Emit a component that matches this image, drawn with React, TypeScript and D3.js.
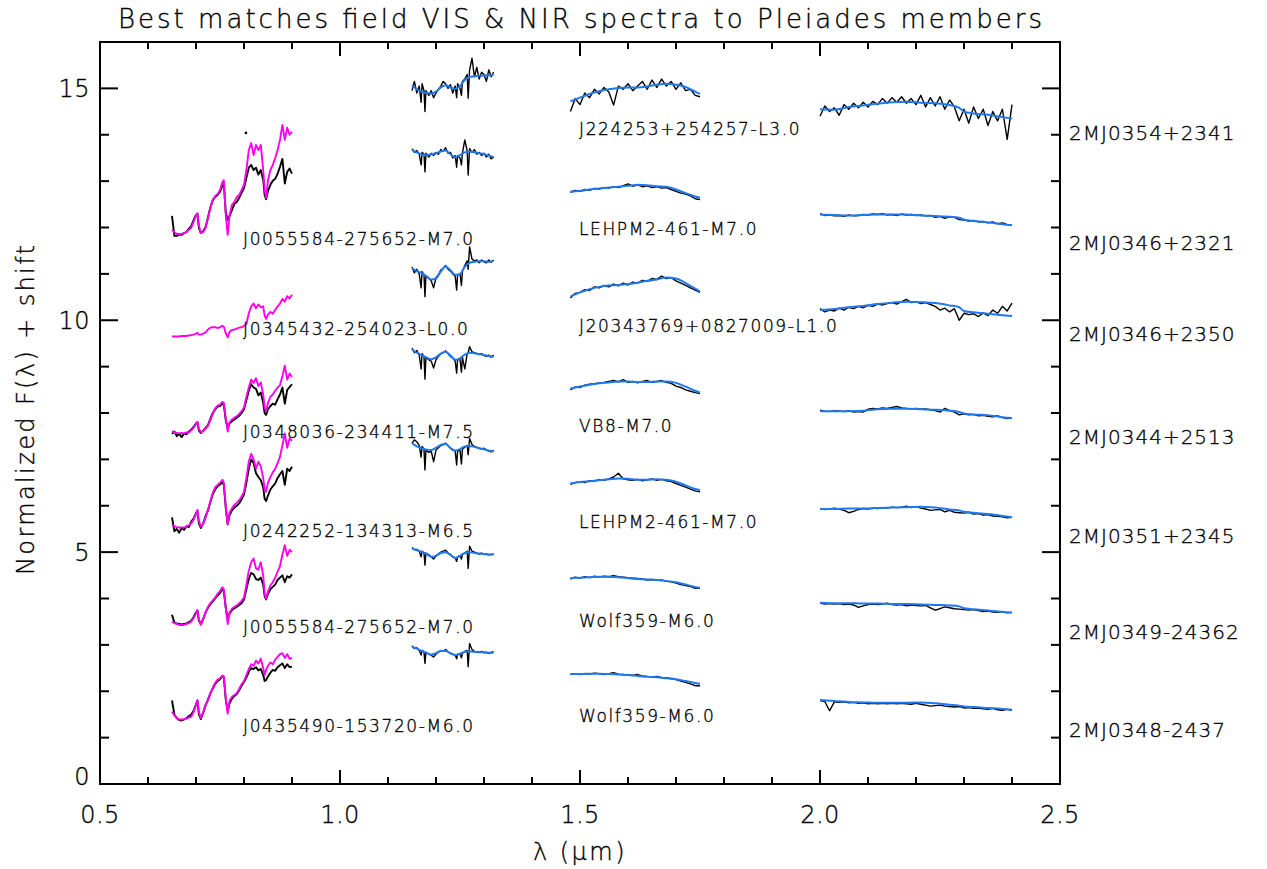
import React from "react";
import * as d3 from "d3";

// ---------- wavelength grids (micron) ----------
const VIS_WL = [0.650,0.655,0.660,0.665,0.670,0.675,0.680,0.685,0.690,0.695,0.700,0.703,0.706,0.710,0.715,0.720,0.725,0.730,0.735,0.740,0.745,0.750,0.755,0.758,0.762,0.766,0.770,0.775,0.780,0.785,0.790,0.795,0.800,0.805,0.810,0.815,0.820,0.825,0.830,0.835,0.840,0.843,0.846,0.850,0.855,0.860,0.865,0.870,0.875,0.880,0.885,0.890,0.895,0.900];
const J_WL = [1.150,1.155,1.160,1.165,1.169,1.171,1.175,1.177,1.179,1.185,1.190,1.195,1.200,1.205,1.210,1.215,1.220,1.225,1.230,1.235,1.240,1.243,1.245,1.250,1.253,1.255,1.260,1.265,1.267,1.270,1.275,1.280,1.285,1.290,1.295,1.300,1.305,1.310,1.315,1.320];
const J_MODEL_WL = [1.15,1.16,1.17,1.18,1.19,1.20,1.21,1.22,1.23,1.24,1.25,1.26,1.27,1.28,1.29,1.30,1.31,1.32];
const H_WL = [1.48,1.49,1.50,1.51,1.52,1.53,1.54,1.55,1.56,1.57,1.58,1.59,1.60,1.61,1.62,1.63,1.64,1.65,1.66,1.67,1.68,1.69,1.70,1.71,1.72,1.73,1.74,1.75];
const H_MODEL_WL = [1.48,1.50,1.52,1.54,1.56,1.58,1.60,1.62,1.64,1.66,1.68,1.70,1.72,1.74,1.75];
const K_WL = [2.00,2.01,2.02,2.03,2.04,2.05,2.06,2.07,2.08,2.09,2.10,2.11,2.12,2.13,2.14,2.15,2.16,2.17,2.18,2.19,2.20,2.21,2.22,2.23,2.24,2.25,2.26,2.27,2.28,2.29,2.30,2.31,2.32,2.33,2.34,2.35,2.36,2.37,2.38,2.39,2.40];
const K_MODEL_WL = [2.00,2.03,2.06,2.09,2.12,2.15,2.18,2.21,2.24,2.27,2.29,2.30,2.32,2.35,2.38,2.40];

// ---------- VIS: observed (black) and template (magenta) ----------
const vis1Obs = [12.25,11.82,11.82,11.84,11.84,11.88,11.90,11.97,12.03,12.16,12.27,12.29,11.99,11.88,11.92,12.01,12.22,12.44,12.59,12.66,12.70,12.77,12.90,12.94,12.33,12.16,12.25,12.38,12.51,12.55,12.64,12.75,12.85,13.07,13.29,13.35,13.24,13.29,13.14,13.24,13.03,12.70,12.61,12.79,12.92,13.01,13.05,13.16,13.31,13.48,12.95,13.20,13.27,13.16];
const vis1Tpl = [11.95,11.90,11.86,11.86,11.86,11.88,11.90,11.95,11.99,12.12,12.25,12.31,12.05,11.88,11.90,11.99,12.20,12.42,12.59,12.68,12.72,12.81,12.98,13.02,12.27,11.84,12.27,12.49,12.55,12.66,12.70,12.81,12.92,13.24,13.67,13.82,13.56,13.78,13.67,13.78,13.24,12.81,12.64,13.02,13.24,13.35,13.50,13.67,13.89,14.21,13.89,14.15,14.00,14.06];
const vis1Outlier = [[0.804, 14.04]];
const vis2Tpl = [9.65,9.65,9.65,9.65,9.66,9.66,9.66,9.67,9.68,9.69,9.71,9.73,9.69,9.69,9.71,9.74,9.80,9.84,9.85,9.85,9.83,9.85,9.88,9.86,9.72,9.63,9.75,9.79,9.80,9.82,9.84,9.85,9.88,9.92,10.15,10.30,10.36,10.26,10.34,10.28,10.30,10.10,10.03,10.12,10.18,10.14,10.22,10.30,10.36,10.46,10.40,10.52,10.47,10.55];
const vis3Obs = [7.55,7.60,7.50,7.55,7.48,7.56,7.54,7.60,7.64,7.70,7.78,7.80,7.62,7.57,7.62,7.68,7.74,7.88,8.00,8.08,8.14,8.15,8.20,8.18,7.84,7.68,7.78,7.82,7.86,7.90,7.94,8.00,8.08,8.28,8.48,8.62,8.55,8.52,8.38,8.44,8.22,8.00,7.96,8.08,8.15,8.20,8.18,8.30,8.40,8.55,8.20,8.50,8.56,8.62];
const vis3Tpl = [7.61,7.58,7.57,7.56,7.57,7.56,7.58,7.58,7.62,7.68,7.76,7.81,7.66,7.59,7.61,7.66,7.72,7.85,7.98,8.10,8.16,8.18,8.24,8.22,7.90,7.60,7.80,7.86,7.90,7.93,7.98,8.04,8.12,8.35,8.55,8.72,8.65,8.75,8.58,8.66,8.40,8.12,8.04,8.22,8.35,8.40,8.48,8.55,8.60,8.80,9.02,8.72,8.85,8.78];
const vis4Obs = [5.75,5.45,5.50,5.42,5.52,5.48,5.56,5.54,5.66,5.72,5.84,5.88,5.62,5.52,5.62,5.78,5.90,6.08,6.25,6.35,6.42,6.46,6.50,6.45,5.95,5.60,5.80,5.90,5.96,6.00,6.05,6.14,6.24,6.50,6.80,7.00,6.92,6.70,6.62,6.55,6.40,6.15,6.10,6.22,6.35,6.42,6.48,6.60,6.68,6.75,6.45,6.80,6.75,6.84];
const vis4Tpl = [5.58,5.56,5.54,5.53,5.53,5.53,5.55,5.58,5.62,5.70,5.82,5.91,5.68,5.55,5.60,5.75,5.91,6.10,6.28,6.40,6.45,6.50,6.56,6.50,6.00,5.60,5.85,5.95,6.02,6.06,6.12,6.20,6.30,6.60,6.95,7.12,7.00,6.80,6.95,6.85,6.60,6.35,6.30,6.50,6.62,6.72,6.80,6.92,7.06,7.30,7.56,7.25,7.45,7.40];
const vis5Obs = [3.65,3.48,3.46,3.45,3.44,3.45,3.46,3.49,3.52,3.60,3.70,3.74,3.52,3.45,3.56,3.70,3.80,3.88,3.94,4.00,4.06,4.12,4.20,4.16,3.80,3.55,3.68,3.75,3.79,3.82,3.86,3.90,3.98,4.20,4.42,4.55,4.52,4.42,4.40,4.45,4.30,4.05,3.98,4.10,4.20,4.25,4.30,4.40,4.45,4.50,4.35,4.48,4.45,4.52];
const vis5Tpl = [3.50,3.47,3.45,3.43,3.43,3.43,3.45,3.47,3.50,3.58,3.68,3.75,3.55,3.43,3.55,3.70,3.82,3.90,3.96,4.02,4.10,4.16,4.24,4.20,3.80,3.45,3.70,3.78,3.82,3.85,3.90,3.95,4.02,4.30,4.60,4.78,4.86,4.65,4.62,4.78,4.50,4.10,4.00,4.15,4.28,4.35,4.45,4.58,4.70,4.95,5.15,4.92,5.05,5.00];
const vis6Obs = [1.80,1.50,1.42,1.38,1.37,1.39,1.42,1.46,1.50,1.58,1.72,1.80,1.50,1.40,1.54,1.70,1.82,1.96,2.06,2.16,2.22,2.26,2.32,2.30,1.82,1.58,1.74,1.84,1.90,1.94,2.02,2.12,2.20,2.30,2.42,2.50,2.48,2.52,2.45,2.48,2.35,2.22,2.24,2.32,2.40,2.46,2.44,2.52,2.56,2.60,2.50,2.58,2.52,2.53];
const vis6Tpl = [1.56,1.48,1.42,1.39,1.39,1.40,1.41,1.43,1.45,1.55,1.70,1.81,1.55,1.42,1.55,1.70,1.81,1.95,2.08,2.18,2.25,2.28,2.34,2.32,1.85,1.52,1.80,1.88,1.92,1.96,2.05,2.15,2.22,2.35,2.48,2.58,2.55,2.66,2.60,2.70,2.50,2.35,2.46,2.55,2.62,2.58,2.68,2.74,2.80,2.82,2.72,2.80,2.70,2.72];

// ---------- J band: observed (black) and model (blue) ----------
const j1Obs = [14.95,15.15,14.90,15.05,14.70,15.10,14.95,14.50,14.95,14.85,14.95,14.80,14.90,14.98,15.05,15.15,15.10,15.00,15.08,14.90,15.05,14.80,15.10,15.00,14.85,15.15,15.20,15.30,14.79,15.40,15.65,15.25,15.45,15.20,15.35,15.30,15.15,15.40,15.25,15.35];
const j1Mod = [15.07,14.98,14.93,14.90,14.89,14.93,15.02,15.07,15.02,14.99,15.05,15.18,15.25,15.26,15.27,15.28,15.28,15.30];
const j2Obs = [13.70,13.62,13.66,13.58,13.35,13.62,13.58,13.20,13.60,13.52,13.60,13.55,13.62,13.58,13.68,13.64,13.72,13.60,13.62,13.50,13.55,13.30,13.55,13.50,13.35,13.60,13.89,13.65,13.13,13.70,13.62,13.68,13.58,13.62,13.55,13.60,13.52,13.58,13.48,13.52];
const j2Mod = [13.67,13.62,13.58,13.56,13.58,13.60,13.64,13.66,13.58,13.52,13.56,13.62,13.64,13.62,13.60,13.58,13.55,13.52];
const j3Obs = [11.15,11.02,11.10,11.00,10.70,11.05,10.98,10.51,10.95,10.90,10.85,10.70,10.92,10.98,11.08,11.12,11.18,11.10,11.06,11.00,10.95,10.65,10.98,11.00,10.75,11.05,11.18,11.28,11.10,11.58,11.32,11.28,11.30,11.24,11.30,11.26,11.24,11.30,11.25,11.30];
const j3Mod = [11.12,11.06,11.02,10.95,10.88,10.90,11.05,11.16,11.08,10.98,11.00,11.15,11.24,11.26,11.27,11.27,11.26,11.28];
const j4Obs = [9.40,9.30,9.35,9.25,8.95,9.28,9.22,8.73,9.20,9.15,9.12,8.97,9.15,9.22,9.28,9.30,9.34,9.28,9.22,9.18,9.12,8.86,9.15,9.16,8.88,9.20,8.95,9.28,9.30,9.43,9.32,9.30,9.28,9.26,9.28,9.24,9.22,9.25,9.20,9.25];
const j4Mod = [9.37,9.30,9.25,9.20,9.16,9.20,9.28,9.32,9.24,9.15,9.18,9.26,9.30,9.29,9.27,9.25,9.23,9.21];
const j5Obs = [7.35,7.42,7.38,7.30,7.05,7.28,7.22,6.77,7.20,7.15,7.18,6.95,7.20,7.25,7.30,7.32,7.35,7.30,7.24,7.20,7.18,6.88,7.18,7.20,6.90,7.22,7.26,7.30,7.10,7.45,7.32,7.28,7.26,7.24,7.22,7.24,7.20,7.18,7.16,7.20];
const j5Mod = [7.35,7.28,7.24,7.21,7.20,7.25,7.31,7.33,7.25,7.19,7.22,7.28,7.29,7.27,7.24,7.22,7.19,7.17];
const j6Obs = [5.10,5.05,5.06,5.02,4.90,5.02,4.98,4.72,4.98,4.94,4.90,4.85,4.92,4.96,5.00,5.02,5.04,4.98,4.95,4.90,4.88,4.80,4.90,4.92,4.85,4.95,4.98,5.02,4.65,5.13,5.02,5.00,4.98,4.96,4.98,4.95,4.96,4.94,4.95,4.96];
const j6Mod = [5.08,5.04,5.01,4.96,4.90,4.92,4.98,5.00,4.94,4.87,4.92,4.98,5.00,4.98,4.97,4.96,4.95,4.95];
const j7Obs = [2.98,2.92,2.94,2.88,2.78,2.88,2.85,2.60,2.84,2.80,2.78,2.74,2.80,2.84,2.88,2.86,2.90,2.85,2.82,2.80,2.78,2.70,2.80,2.80,2.72,2.82,2.86,2.88,2.53,3.03,2.90,2.86,2.85,2.84,2.86,2.83,2.84,2.82,2.84,2.85];
const j7Mod = [2.96,2.92,2.87,2.83,2.79,2.82,2.87,2.87,2.82,2.78,2.81,2.85,2.86,2.85,2.84,2.84,2.83,2.83];

// ---------- H band ----------
const h1Obs = [14.50,14.78,14.65,14.90,14.80,14.98,14.88,15.02,14.92,14.64,15.05,14.98,15.10,14.95,15.05,15.15,14.98,15.18,15.02,15.20,15.05,15.15,14.98,15.12,14.95,14.98,14.85,14.82];
const h1Mod = [14.72,14.80,14.88,14.94,14.98,15.01,15.02,15.02,15.04,15.08,15.10,15.08,15.03,14.93,14.88];
const h2Obs = [12.76,12.80,12.78,12.82,12.80,12.84,12.83,12.86,12.85,12.88,12.86,12.90,12.94,12.89,12.92,12.88,12.90,12.86,12.88,12.85,12.86,12.82,12.78,12.74,12.72,12.68,12.62,12.60];
const h2Mod = [12.77,12.79,12.82,12.84,12.86,12.88,12.90,12.92,12.91,12.89,12.88,12.82,12.74,12.67,12.64];
const h3Obs = [10.48,10.58,10.60,10.66,10.64,10.72,10.70,10.75,10.72,10.78,10.74,10.80,10.76,10.82,10.80,10.86,10.84,10.90,10.88,10.95,10.90,10.92,10.85,10.80,10.75,10.70,10.65,10.60];
const h3Mod = [10.51,10.60,10.67,10.72,10.75,10.76,10.78,10.81,10.85,10.88,10.92,10.90,10.80,10.68,10.62];
const h4Obs = [8.50,8.56,8.55,8.60,8.62,8.63,8.65,8.66,8.68,8.70,8.67,8.72,8.66,8.68,8.65,8.68,8.70,8.66,8.68,8.70,8.66,8.64,8.58,8.55,8.50,8.47,8.44,8.42];
const h4Mod = [8.53,8.57,8.61,8.64,8.66,8.68,8.68,8.67,8.67,8.68,8.68,8.65,8.57,8.48,8.44];
const h5Obs = [6.46,6.50,6.52,6.50,6.54,6.53,6.56,6.55,6.58,6.62,6.70,6.58,6.56,6.55,6.57,6.54,6.56,6.58,6.55,6.57,6.54,6.52,6.48,6.44,6.40,6.36,6.32,6.30];
const h5Mod = [6.48,6.51,6.53,6.55,6.57,6.59,6.58,6.56,6.56,6.57,6.56,6.52,6.44,6.36,6.34];
const h6Obs = [4.42,4.46,4.44,4.47,4.45,4.48,4.46,4.48,4.47,4.49,4.47,4.46,4.45,4.44,4.43,4.42,4.40,4.41,4.39,4.40,4.37,4.36,4.33,4.30,4.28,4.26,4.22,4.22];
const h6Mod = [4.44,4.45,4.46,4.47,4.47,4.46,4.44,4.42,4.41,4.40,4.38,4.35,4.30,4.25,4.23];
const h7Obs = [2.36,2.38,2.36,2.38,2.37,2.39,2.38,2.36,2.38,2.40,2.37,2.36,2.35,2.34,2.36,2.33,2.32,2.31,2.32,2.30,2.29,2.27,2.25,2.22,2.19,2.16,2.12,2.12];
const h7Mod = [2.37,2.37,2.38,2.38,2.37,2.36,2.35,2.33,2.31,2.30,2.28,2.26,2.22,2.18,2.16];

// ---------- K band ----------
const k1Obs = [14.40,14.62,14.50,14.58,14.42,14.65,14.55,14.68,14.58,14.70,14.60,14.72,14.65,14.78,14.68,14.80,14.70,14.82,14.68,14.78,14.65,14.85,14.60,14.80,14.62,14.82,14.55,14.75,14.60,14.30,14.55,14.25,14.60,14.35,14.55,14.20,14.50,14.30,14.55,13.90,14.65];
const k1Mod = [14.55,14.54,14.60,14.63,14.67,14.70,14.71,14.69,14.68,14.64,14.58,14.50,14.46,14.43,14.38,14.35];
const k2Obs = [12.30,12.26,12.27,12.25,12.26,12.24,12.27,12.25,12.26,12.28,12.27,12.29,12.28,12.30,12.27,12.28,12.26,12.29,12.27,12.28,12.26,12.27,12.25,12.26,12.22,12.24,12.20,12.23,12.22,12.17,12.16,12.14,12.15,12.12,12.13,12.10,12.12,12.08,12.10,12.06,12.05];
const k2Mod = [12.28,12.27,12.26,12.27,12.28,12.28,12.28,12.26,12.25,12.23,12.21,12.17,12.14,12.11,12.07,12.05];
const k3Obs = [10.25,10.18,10.22,10.20,10.26,10.22,10.28,10.25,10.30,10.27,10.32,10.30,10.35,10.33,10.36,10.38,10.35,10.40,10.45,10.38,10.40,10.36,10.38,10.34,10.30,10.22,10.26,10.18,10.25,10.00,10.15,10.12,10.14,10.08,10.16,10.10,10.22,10.15,10.30,10.20,10.37];
const k3Mod = [10.22,10.24,10.28,10.31,10.35,10.38,10.40,10.39,10.37,10.32,10.28,10.20,10.17,10.14,10.11,10.09];
const k4Obs = [8.06,8.04,8.03,8.05,8.04,8.03,8.05,8.02,8.03,8.02,8.08,8.10,8.09,8.11,8.10,8.12,8.14,8.11,8.10,8.09,8.10,8.08,8.09,8.07,8.05,8.02,8.10,8.05,8.02,7.96,7.98,7.96,7.97,7.94,7.95,7.93,7.92,7.94,7.90,7.88,7.89];
const k4Mod = [8.04,8.04,8.04,8.05,8.08,8.09,8.09,8.08,8.07,8.05,8.02,7.99,7.97,7.95,7.91,7.89];
const k5Obs = [5.94,5.92,5.93,5.95,5.93,5.90,5.85,5.88,5.92,5.94,5.93,5.95,5.94,5.96,5.95,5.97,5.96,5.97,5.99,5.96,5.98,5.95,5.93,5.90,5.91,5.92,5.87,5.90,5.86,5.85,5.84,5.86,5.82,5.83,5.80,5.81,5.78,5.77,5.76,5.74,5.75];
const k5Mod = [5.93,5.93,5.94,5.94,5.95,5.96,5.97,5.98,5.96,5.92,5.90,5.87,5.85,5.82,5.78,5.75];
const k6Obs = [3.90,3.88,3.89,3.88,3.89,3.87,3.88,3.86,3.81,3.84,3.87,3.88,3.87,3.88,3.90,3.87,3.86,3.87,3.84,3.86,3.85,3.84,3.85,3.80,3.75,3.78,3.82,3.80,3.78,3.77,3.76,3.75,3.76,3.74,3.72,3.73,3.71,3.70,3.72,3.69,3.70];
const k6Mod = [3.91,3.90,3.90,3.89,3.89,3.88,3.88,3.87,3.86,3.85,3.83,3.79,3.77,3.74,3.71,3.70];
const k7Obs = [1.80,1.78,1.58,1.77,1.76,1.77,1.75,1.76,1.74,1.75,1.73,1.74,1.73,1.74,1.73,1.74,1.73,1.74,1.73,1.72,1.74,1.72,1.70,1.68,1.69,1.70,1.68,1.67,1.66,1.67,1.64,1.65,1.63,1.64,1.62,1.61,1.63,1.60,1.59,1.61,1.59];
const k7Mod = [1.81,1.79,1.77,1.76,1.75,1.75,1.75,1.76,1.74,1.71,1.69,1.67,1.66,1.64,1.62,1.60];

// ---------- labels ----------
const visLabels = ["J0055584-275652-M7.0","J0345432-254023-L0.0","J0348036-234411-M7.5","J0242252-134313-M6.5","J0055584-275652-M7.0","J0435490-153720-M6.0"];
const hLabels = ["J224253+254257-L3.0","LEHPM2-461-M7.0","J20343769+0827009-L1.0","VB8-M7.0","LEHPM2-461-M7.0","Wolf359-M6.0","Wolf359-M6.0"];
const memberLabels = ["2MJ0354+2341","2MJ0346+2321","2MJ0346+2350","2MJ0344+2513","2MJ0351+2345","2MJ0349-24362","2MJ0348-2437"];
const xMajorTicks = [0.5, 1.0, 1.5, 2.0, 2.5];
const yMajorTicks = [0, 5, 10, 15];
const titleText = "Best matches field VIS & NIR spectra to Pleiades members";
const xTitle = "λ (μm)";
const yTitle = "Normalized F(λ) + shift";

// label anchor positions in data coordinates (baselines)
const visLabelAnchor = { x: 0.798, y: [11.62, 9.68, 7.46, 5.33, 3.26, 1.12] };
const hLabelAnchor = { x: 1.498, y: [13.99, 11.84, 9.75, 7.59, 5.52, 3.39, 1.34] };
const memberLabelAnchor = { x: 2.519, y: [13.89, 11.51, 9.55, 7.33, 5.20, 3.13, 1.01] };

const W = 1267, H = 869;
const FONT = "'DejaVu Sans', 'Liberation Sans', sans-serif";
const MAGENTA = "#ff00ee";
const BLUE = "#1f78f0";
const TXT = { fill: "#000", stroke: "#000", strokeWidth: 0.35 } as const;

export default function App() {
  const x = d3.scaleLinear().domain([0.5, 2.5]).range([100, 1060]);
  const y = d3.scaleLinear().domain([0, 16]).range([784, 42]);

  const mk = (wl: number[], f: number[]) => {
    const n = Math.min(wl.length, f.length);
    const pts: [number, number][] = [];
    for (let i = 0; i < n; i++) pts.push([wl[i], f[i]]);
    return pts;
  };
  const lineLin = d3.line<[number, number]>().x(d => x(d[0])).y(d => y(d[1]));
  const lineSmooth = d3.line<[number, number]>().x(d => x(d[0])).y(d => y(d[1])).curve(d3.curveMonotoneX);

  const visBlacks: [number[], number[]][] = [
    [VIS_WL, vis1Obs], [VIS_WL, vis3Obs], [VIS_WL, vis4Obs], [VIS_WL, vis5Obs], [VIS_WL, vis6Obs],
  ];
  const nirBlacks: [number[], number[]][] = [
    [J_WL, j1Obs], [J_WL, j2Obs], [J_WL, j3Obs], [J_WL, j4Obs], [J_WL, j5Obs], [J_WL, j6Obs], [J_WL, j7Obs],
    [H_WL, h1Obs], [H_WL, h2Obs], [H_WL, h3Obs], [H_WL, h4Obs], [H_WL, h5Obs], [H_WL, h6Obs], [H_WL, h7Obs],
    [K_WL, k1Obs], [K_WL, k2Obs], [K_WL, k3Obs], [K_WL, k4Obs], [K_WL, k5Obs], [K_WL, k6Obs], [K_WL, k7Obs],
  ];
  const magentas: [number[], number[]][] = [
    [VIS_WL, vis1Tpl], [VIS_WL, vis2Tpl], [VIS_WL, vis3Tpl], [VIS_WL, vis4Tpl], [VIS_WL, vis5Tpl], [VIS_WL, vis6Tpl],
  ];
  const blues: [number[], number[]][] = [
    [J_MODEL_WL, j1Mod], [J_MODEL_WL, j2Mod], [J_MODEL_WL, j3Mod], [J_MODEL_WL, j4Mod], [J_MODEL_WL, j5Mod], [J_MODEL_WL, j6Mod], [J_MODEL_WL, j7Mod],
    [H_MODEL_WL, h1Mod], [H_MODEL_WL, h2Mod], [H_MODEL_WL, h3Mod], [H_MODEL_WL, h4Mod], [H_MODEL_WL, h5Mod], [H_MODEL_WL, h6Mod], [H_MODEL_WL, h7Mod],
    [K_MODEL_WL, k1Mod], [K_MODEL_WL, k2Mod], [K_MODEL_WL, k3Mod], [K_MODEL_WL, k4Mod], [K_MODEL_WL, k5Mod], [K_MODEL_WL, k6Mod], [K_MODEL_WL, k7Mod],
  ];

  const xMinor = d3.range(5, 26).map(v => v / 10).filter(v => !xMajorTicks.some(m => Math.abs(m - v) < 1e-9));
  const yMinor = d3.range(0, 17).filter(v => !yMajorTicks.includes(v));
  const [x0, x1] = x.range();
  const [y0, y1] = y.range();

  return (
    <div style={{ position: "absolute", left: 0, top: 0 }}>
      <svg width={W} height={H} style={{ display: "block", background: "#fff" }} fontFamily={FONT}>
        <rect x={0} y={0} width={W} height={H} fill="#fff" />
        {/* spectra */}
        {visBlacks.map(([wl, f], i) => (
          <path key={"vb" + i} d={lineLin(mk(wl, f)) || ""} fill="none" stroke="#000" strokeWidth={1.9} strokeLinejoin="round" />
        ))}
        {nirBlacks.map(([wl, f], i) => (
          <path key={"nb" + i} d={lineLin(mk(wl, f)) || ""} fill="none" stroke="#000" strokeWidth={1.4} strokeLinejoin="round" />
        ))}
        {vis1Outlier.map((p, i) => (
          <circle key={"o" + i} cx={x(p[0])} cy={y(p[1])} r={1.3} fill="#000" />
        ))}
        {magentas.map(([wl, f], i) => (
          <path key={"m" + i} d={lineLin(mk(wl, f)) || ""} fill="none" stroke={MAGENTA} strokeWidth={1.9} strokeLinejoin="round" />
        ))}
        {blues.map(([wl, f], i) => (
          <path key={"u" + i} d={lineSmooth(mk(wl, f)) || ""} fill="none" stroke={BLUE} strokeWidth={2} strokeLinejoin="round" />
        ))}

        {/* frame */}
        <rect x={x0} y={y1} width={x1 - x0} height={y0 - y1} fill="none" stroke="#000" strokeWidth={2} />
        {/* x ticks */}
        {xMajorTicks.map(v => (
          <g key={"xm" + v}>
            <line x1={x(v)} x2={x(v)} y1={y0} y2={y0 - 14} stroke="#000" strokeWidth={2} />
            <line x1={x(v)} x2={x(v)} y1={y1} y2={y1 + 14} stroke="#000" strokeWidth={2} />
            <text x={x(v)} y={823} textAnchor="middle" fontSize={24} fontWeight={200} letterSpacing={0.5} {...TXT}>{v.toFixed(1)}</text>
          </g>
        ))}
        {xMinor.map(v => (
          <g key={"xn" + v}>
            <line x1={x(v)} x2={x(v)} y1={y0} y2={y0 - 7} stroke="#000" strokeWidth={2} />
            <line x1={x(v)} x2={x(v)} y1={y1} y2={y1 + 7} stroke="#000" strokeWidth={2} />
          </g>
        ))}
        {/* y ticks */}
        {yMajorTicks.map(v => (
          <g key={"ym" + v}>
            <line x1={x0} x2={x0 + 18} y1={y(v)} y2={y(v)} stroke="#000" strokeWidth={2} />
            <line x1={x1} x2={x1 - 18} y1={y(v)} y2={y(v)} stroke="#000" strokeWidth={2} />
            <text x={90} y={Math.min(y(v) + 9, 785)} textAnchor="end" fontSize={24} fontWeight={200} letterSpacing={0.5} {...TXT}>{String(v)}</text>
          </g>
        ))}
        {yMinor.map(v => (
          <g key={"yn" + v}>
            <line x1={x0} x2={x0 + 9} y1={y(v)} y2={y(v)} stroke="#000" strokeWidth={2} />
            <line x1={x1} x2={x1 - 9} y1={y(v)} y2={y(v)} stroke="#000" strokeWidth={2} />
          </g>
        ))}

        {/* titles */}
        <text x={580} y={28} textAnchor="middle" fontSize={26} fontWeight={200} textLength={924} lengthAdjust="spacing" {...TXT}>{titleText}</text>
        <text x={580} y={860} textAnchor="middle" fontSize={24} fontWeight={200} letterSpacing={2.5} {...TXT}>{xTitle}</text>
        <text transform="translate(34,410) rotate(-90)" textAnchor="middle" fontSize={24} fontWeight={200} textLength={330} lengthAdjust="spacing" {...TXT}>{yTitle}</text>

        {/* spectrum labels */}
        {visLabels.map((t, i) => (
          <text key={"vl" + i} x={x(visLabelAnchor.x)} y={y(visLabelAnchor.y[i])} fontSize={17} fontWeight={200} letterSpacing={1.6} {...TXT}>{t}</text>
        ))}
        {hLabels.map((t, i) => (
          <text key={"hl" + i} x={x(hLabelAnchor.x)} y={y(hLabelAnchor.y[i])} fontSize={17} fontWeight={200} letterSpacing={1.6} {...TXT}>{t}</text>
        ))}
        {memberLabels.map((t, i) => (
          <text key={"ml" + i} x={x(memberLabelAnchor.x)} y={y(memberLabelAnchor.y[i])} fontSize={20} fontWeight={200} letterSpacing={1} {...TXT}>{t}</text>
        ))}
      </svg>
    </div>
  );
}
